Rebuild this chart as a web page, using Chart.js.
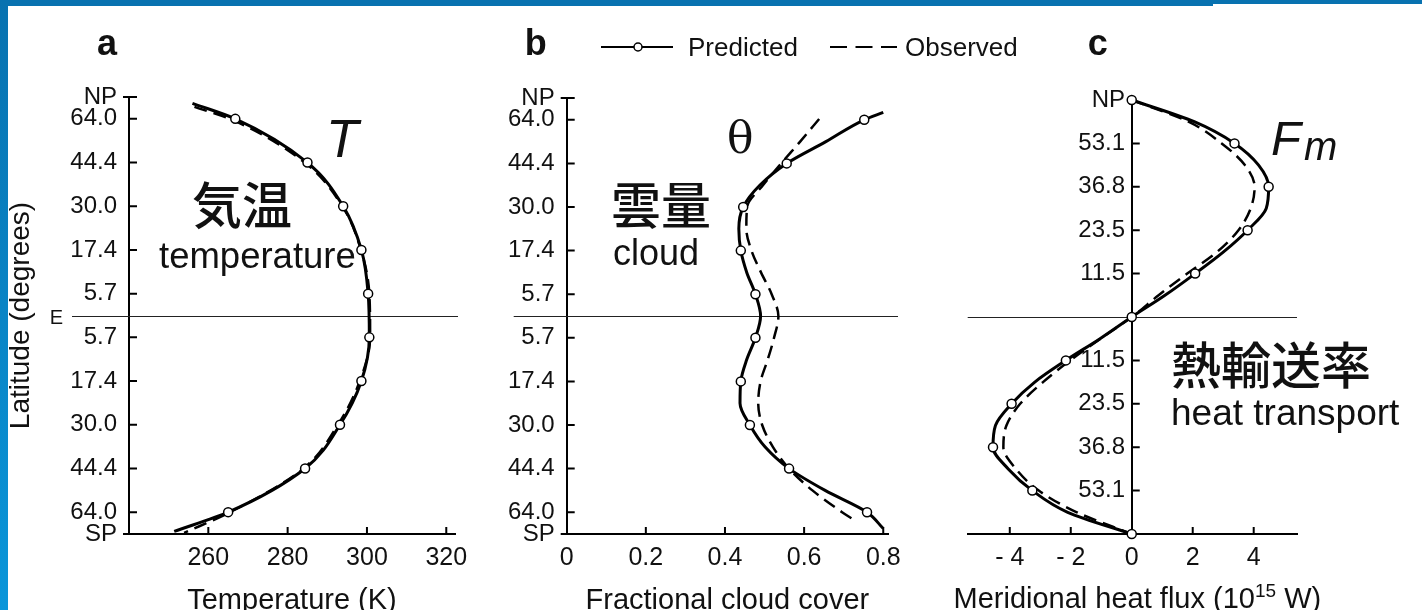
<!DOCTYPE html>
<html>
<head>
<meta charset="utf-8">
<script src="https://cdn.jsdelivr.net/npm/chart.js@4.4.1/dist/chart.umd.min.js"></script>
<style>
  html, body { margin: 0; padding: 0; background: #fff; width: 1422px; height: 610px; overflow: hidden; }
  canvas { position: absolute; left: 0; top: 0; }
  .frame { position: absolute; background: #0872b0; z-index: 5; }
  #frameTop { left: 0; top: 0; width: 1213px; height: 6px; }
  #frameTopRight { left: 1213px; top: 0; width: 209px; height: 4px; }
  #frameLeft { left: 0; top: 0; width: 8px; height: 610px; background: linear-gradient(#0872b0, #0a96da); }
</style>
</head>
<body>
<div id="frameTop" class="frame"></div>
<div id="frameTopRight" class="frame"></div>
<div id="frameLeft" class="frame"></div>
<canvas id="chartA" width="1422" height="618"></canvas>
<canvas id="chartB" width="1422" height="618"></canvas>
<canvas id="chartC" width="1422" height="618"></canvas>
<script>
// ---- Latitude axis: plotted as sin(latitude), so each band of equal area gets equal height ----
const latTicks      = [1, 0.9, 0.7, 0.5, 0.3, 0.1, -0.1, -0.3, -0.5, -0.7, -0.9, -1];
const latTickLabels = ['NP', '64.0', '44.4', '30.0', '17.4', '5.7', '5.7', '17.4', '30.0', '44.4', '64.0', 'SP'];
const fluxLatTicks      = [1, 0.8, 0.6, 0.4, 0.2, -0.2, -0.4, -0.6, -0.8];
const fluxLatTickLabels = ['NP', '53.1', '36.8', '23.5', '11.5', '11.5', '23.5', '36.8', '53.1'];

// ---- Value-axis ticks ----
const tempTicks  = [260, 280, 300, 320];
const cloudTicks = [0, 0.2, 0.4, 0.6, 0.8];
const fluxTicks  = [-4, -2, 0, 2, 4];

// ---- (a) Surface temperature, K ----
const tempPredLat = [0.971, 0.9, 0.7, 0.5, 0.3, 0.1, -0.1, -0.3, -0.5, -0.7, -0.9, -0.988];
const tempPred    = [256.0, 266.8, 285.0, 294.0, 298.6, 300.3, 300.6, 298.6, 293.2, 284.4, 265.0, 251.4];
const tempObsLat  = [0.955, 0.9, 0.7, 0.5, 0.3, 0.1, -0.1, -0.3, -0.5, -0.7, -0.9, -0.995];
const tempObs     = [256.5, 265.4, 284.3, 293.8, 298.5, 300.6, 300.8, 298.2, 292.7, 284.0, 265.5, 253.9];
const tempMarkLat = [0.9, 0.7, 0.5, 0.3, 0.1, -0.1, -0.3, -0.5, -0.7, -0.9];

// ---- (b) Fractional cloud cover ----
const cloudPredLat = [0.934, 0.9, 0.8, 0.7, 0.6, 0.5, 0.4, 0.3, 0.2, 0.1, 0, -0.1, -0.2, -0.3, -0.4, -0.5, -0.6, -0.7, -0.8, -0.9, -0.975];
const cloudPred    = [0.800, 0.752, 0.655, 0.556, 0.488, 0.446, 0.435, 0.440, 0.455, 0.477, 0.490, 0.477, 0.455, 0.440, 0.438, 0.463, 0.501, 0.562, 0.653, 0.759, 0.800];
const cloudObsLat  = [0.904, 0.8, 0.7, 0.6, 0.5, 0.4, 0.3, 0.2, 0.1, 0, -0.1, -0.2, -0.3, -0.4, -0.5, -0.6, -0.7, -0.8, -0.9, -0.933];
const cloudObs     = [0.638, 0.590, 0.542, 0.496, 0.456, 0.454, 0.467, 0.491, 0.518, 0.535, 0.524, 0.508, 0.490, 0.484, 0.494, 0.521, 0.562, 0.621, 0.696, 0.724];
const cloudMarkLat = [0.9, 0.7, 0.5, 0.3, 0.1, -0.1, -0.3, -0.5, -0.7, -0.9];

// ---- (c) Meridional heat flux, 10^15 W ----
const fluxLat     = [1, 0.9, 0.8, 0.7, 0.6, 0.5, 0.4, 0.3, 0.2, 0.1, 0, -0.1, -0.2, -0.3, -0.4, -0.5, -0.6, -0.7, -0.8, -0.9, -1];
const fluxPred    = [0, 2.05, 3.37, 4.16, 4.49, 4.41, 3.80, 3.01, 2.08, 1.09, 0, -1.04, -2.16, -3.18, -3.94, -4.47, -4.55, -4.05, -3.26, -2.10, 0];
const fluxObs     = [0, 1.86, 2.95, 3.71, 4.03, 3.90, 3.50, 2.80, 1.82, 0.88, 0, -1.03, -2.02, -2.91, -3.66, -4.11, -4.21, -3.80, -3.05, -1.80, 0];
const fluxMarkLat = [1, 0.8, 0.6, 0.4, 0.2, 0, -0.2, -0.4, -0.6, -0.8, -1];

// ---- Styling ----
const SANS   = "'Liberation Sans', Arial, sans-serif";
const SERIF  = "'DejaVu Serif', 'Liberation Serif', serif";
const CJK    = "'Noto Sans CJK JP', sans-serif";
const INK = '#111';
const X_AXIS_HEIGHT = 84;

Chart.defaults.animation = false;
Chart.defaults.color = INK;

const predStyle = { borderColor: '#000', borderWidth: 3 };
const obsStyle  = { borderColor: '#000', borderWidth: 2.5, borderDash: [13, 7] };
const markStyle = { radius: 4.5, fill: '#fff', stroke: '#000', width: 1.5 };

const toPoints = (lat, vals) => lat.map((y, i) => ({ x: vals[i], y }));
const toMarks  = (lat, vals, marks) => toPoints(lat, vals).filter(p => marks.includes(p.y));

// Axis decorations: equator line, inward tick marks, panel letter, annotations, key
const panelDecor = {
  id: 'panelDecor',
  beforeDatasetsDraw(chart, args, o) {
    const { ctx, chartArea: ca, scales } = chart;
    const y0 = Math.round(scales.y.getPixelForValue(0)) + 0.5;
    ctx.save();
    ctx.strokeStyle = '#222';
    ctx.lineWidth = 1;
    ctx.beginPath();
    ctx.moveTo(ca.left + o.equator[0], y0);
    ctx.lineTo(ca.right + o.equator[1], y0);
    ctx.stroke();
    if (o.equatorLabel) {
      ctx.fillStyle = INK;
      ctx.font = `20px ${SANS}`;
      ctx.textAlign = 'right';
      ctx.textBaseline = 'middle';
      ctx.fillText(o.equatorLabel, ca.left + o.equator[0] - 9, y0 + 2);
    }
    ctx.restore();
  },
  afterDraw(chart, args, o) {
    const { ctx, chartArea: ca, scales: { x, y } } = chart;
    const axisX = o.axisAtZero ? x.getPixelForValue(0) : ca.left;
    ctx.save();
    ctx.strokeStyle = '#000';
    ctx.lineWidth = 2;
    ctx.beginPath();
    x.ticks.forEach(t => {
      const px = x.getPixelForValue(t.value);
      if (Math.abs(px - axisX) < 1) return;
      ctx.moveTo(px, ca.bottom);
      ctx.lineTo(px, ca.bottom - 7);
    });
    y.ticks.forEach(t => {
      const py = y.getPixelForValue(t.value);
      if (t.value === 1) {
        if (o.poleTicks) { ctx.moveTo(axisX - 6, py); ctx.lineTo(axisX + 8, py); }
      } else if (t.value === -1) {
        ctx.moveTo(axisX - 6, py); ctx.lineTo(axisX, py);
      } else {
        ctx.moveTo(axisX, py); ctx.lineTo(axisX + 8, py);
      }
    });
    ctx.stroke();

    // panel letter
    ctx.fillStyle = INK;
    ctx.textBaseline = 'alphabetic';
    ctx.textAlign = 'left';
    ctx.font = `bold 36px ${SANS}`;
    ctx.fillText(o.letter, axisX + o.letterDx, 55);

    // annotations
    (o.notes || []).forEach(n => {
      ctx.font = n.font;
      ctx.fillText(n.text, n.x, n.y);
    });

    // x-axis title with a superscript exponent
    if (o.titleParts) {
      const [pre, sup, post] = o.titleParts;
      const base = `29px ${SANS}`, small = `19px ${SANS}`;
      ctx.font = base; const w1 = ctx.measureText(pre).width, w3 = ctx.measureText(post).width;
      ctx.font = small; const w2 = ctx.measureText(sup).width;
      let tx = (ca.left + ca.right) / 2 + o.titleDx - (w1 + w2 + w3) / 2;
      const by = 607.5;
      ctx.font = base; ctx.fillText(pre, tx, by); tx += w1;
      ctx.font = small; ctx.fillText(sup, tx, by - 10.5); tx += w2;
      ctx.font = base; ctx.fillText(post, tx, by);
    }

    // key
    if (o.key) {
      const k = o.key, ly = 47;
      ctx.lineWidth = 2;
      ctx.beginPath();
      ctx.moveTo(k.x, ly); ctx.lineTo(k.x + 72, ly);
      ctx.stroke();
      ctx.beginPath();
      ctx.arc(k.x + 37, ly, 4, 0, Math.PI * 2);
      ctx.fillStyle = markStyle.fill; ctx.fill();
      ctx.lineWidth = markStyle.width; ctx.stroke();
      ctx.fillStyle = INK;
      ctx.font = `26px ${SANS}`;
      ctx.fillText(k.labels[0], k.x + 87, 56);
      ctx.lineWidth = 2;
      ctx.setLineDash([17, 8.5]);
      ctx.beginPath();
      ctx.moveTo(k.x + 229, ly); ctx.lineTo(k.x + 296, ly);
      ctx.stroke();
      ctx.setLineDash([]);
      ctx.fillText(k.labels[1], k.x + 304, 56);
    }
    ctx.restore();
  }
};

function makePanel(id, p) {
  const fixedTicks = values => scale => { scale.ticks = values.map(v => ({ value: v })); };
  return new Chart(document.getElementById(id), {
    type: 'line',
    data: {
      datasets: [
        { // predicted: circles
          data: p.marks, showLine: false, pointRadius: markStyle.radius,
          pointBackgroundColor: markStyle.fill, pointBorderColor: markStyle.stroke,
          pointBorderWidth: markStyle.width, clip: false
        },
        { // predicted: curve
          data: p.pred, pointRadius: 0, cubicInterpolationMode: 'monotone', fill: false,
          clip: false, ...predStyle
        },
        { // observed: dashed curve
          data: p.obs, pointRadius: 0, cubicInterpolationMode: 'monotone', fill: false,
          clip: false, ...obsStyle
        }
      ]
    },
    options: {
      indexAxis: 'y',
      responsive: false,
      devicePixelRatio: 1,
      events: [],
      layout: { padding: p.padding },
      plugins: { legend: { display: false }, tooltip: { enabled: false }, panelDecor: p.decor },
      scales: {
        x: {
          type: 'linear', min: p.xMin, max: p.xMax,
          afterBuildTicks: fixedTicks(p.xTicks),
          afterFit: s => { s.height = X_AXIS_HEIGHT; },
          grid: { display: false, drawTicks: false },
          border: { display: true, color: '#000', width: 2 },
          ticks: {
            autoSkip: false, maxRotation: 0, minRotation: 0, padding: 9,
            font: { family: SANS, size: 25 }, color: INK,
            callback: p.xFormat
          },
          title: {
            display: !!p.xTitle, text: p.xTitle, color: INK, padding: 0,
            font: { family: SANS, size: 29 }
          }
        },
        y: {
          type: 'linear', min: -1, max: 1,
          position: p.yPosition,
          afterBuildTicks: fixedTicks(p.yTicks),
          afterFit: s => { if (p.yWidth) s.width = p.yWidth; },
          grid: { display: false, drawTicks: false },
          border: { display: true, color: '#000', width: 2 },
          ticks: {
            autoSkip: false, padding: 12,
            font: { family: SANS, size: 24 }, color: INK,
            callback: v => p.yLabels[p.yTicks.indexOf(v)] + (p.yLabelGap || '')
          },
          title: {
            display: !!p.yTitle, text: p.yTitle, color: INK, padding: { top: 4, bottom: 0 },
            font: { family: SANS, size: 28 }
          }
        }
      }
    },
    plugins: [panelDecor]
  });
}

// (a) temperature
makePanel('chartA', {
  pred: toPoints(tempPredLat, tempPred),
  obs: toPoints(tempObsLat, tempObs),
  marks: toMarks(tempPredLat, tempPred, tempMarkLat),
  xMin: 240, xMax: 322.2, xTicks: tempTicks, xFormat: v => String(v),
  xTitle: 'Temperature (K)',
  yTicks: latTicks, yLabels: latTickLabels, yTitle: 'Latitude (degrees)',
  yPosition: 'left', yWidth: 129,
  padding: { left: 0, top: 97, right: 1422 - 455, bottom: 0 },
  decor: {
    equator: [-57, 3], equatorLabel: 'E', poleTicks: true, letter: 'a', letterDx: -32,
    notes: [
      { text: 'T', font: `italic 53px ${SANS}`, x: 326, y: 157 },
      { text: '気温', font: `500 50px ${CJK}`, x: 192, y: 224 },
      { text: 'temperature', font: `36.5px ${SANS}`, x: 159, y: 268 }
    ]
  }
});

// (b) cloud cover
makePanel('chartB', {
  pred: toPoints(cloudPredLat, cloudPred),
  obs: toPoints(cloudObsLat, cloudObs),
  marks: toMarks(cloudPredLat, cloudPred, cloudMarkLat),
  xMin: 0, xMax: 0.812, xTicks: cloudTicks, xFormat: v => (v === 0 ? '0' : v.toFixed(1)),
  xTitle: 'Fractional cloud cover',
  yTicks: latTicks, yLabels: latTickLabels, yTitle: '',
  yPosition: 'left', yWidth: 100,
  padding: { left: 566.7 - 100, top: 98, right: 1422 - 888, bottom: 0 },
  decor: {
    equator: [-53, 10], poleTicks: true, letter: 'b', letterDx: -42,
    key: { x: 601, labels: ['Predicted', 'Observed'] },
    notes: [
      { text: 'θ', font: `44px ${SERIF}`, x: 727, y: 153 },
      { text: '雲量', font: `500 50px ${CJK}`, x: 611, y: 224 },
      { text: 'cloud', font: `36px ${SANS}`, x: 613, y: 265 }
    ]
  }
});

// (c) meridional heat flux
makePanel('chartC', {
  pred: toPoints(fluxLat, fluxPred),
  obs: toPoints(fluxLat, fluxObs),
  marks: toMarks(fluxLat, fluxPred, fluxMarkLat),
  xMin: -5.38, xMax: 5.42, xTicks: fluxTicks, xFormat: v => (v < 0 ? '- ' + (-v) : String(v)),
  xTitle: '',
  yTicks: fluxLatTicks, yLabels: fluxLatTickLabels, yLabelGap: ' ', yTitle: '',
  yPosition: { x: 0 }, yWidth: 0,
  padding: { left: 967.7, top: 100, right: 1422 - 1297, bottom: 0 },
  decor: {
    equator: [0, 0], poleTicks: false, axisAtZero: true, letter: 'c', letterDx: -44,
    titleParts: ['Meridional heat flux (10', '15', ' W)'], titleDx: 5,
    notes: [
      { text: 'F', font: `italic 49px ${SANS}`, x: 1271, y: 155 },
      { text: 'm', font: `italic 40px ${SANS}`, x: 1304, y: 160 },
      { text: '熱輸送率', font: `500 50px ${CJK}`, x: 1171, y: 384 },
      { text: 'heat transport', font: `37px ${SANS}`, x: 1171, y: 425 }
    ]
  }
});
</script>
</body>
</html>
